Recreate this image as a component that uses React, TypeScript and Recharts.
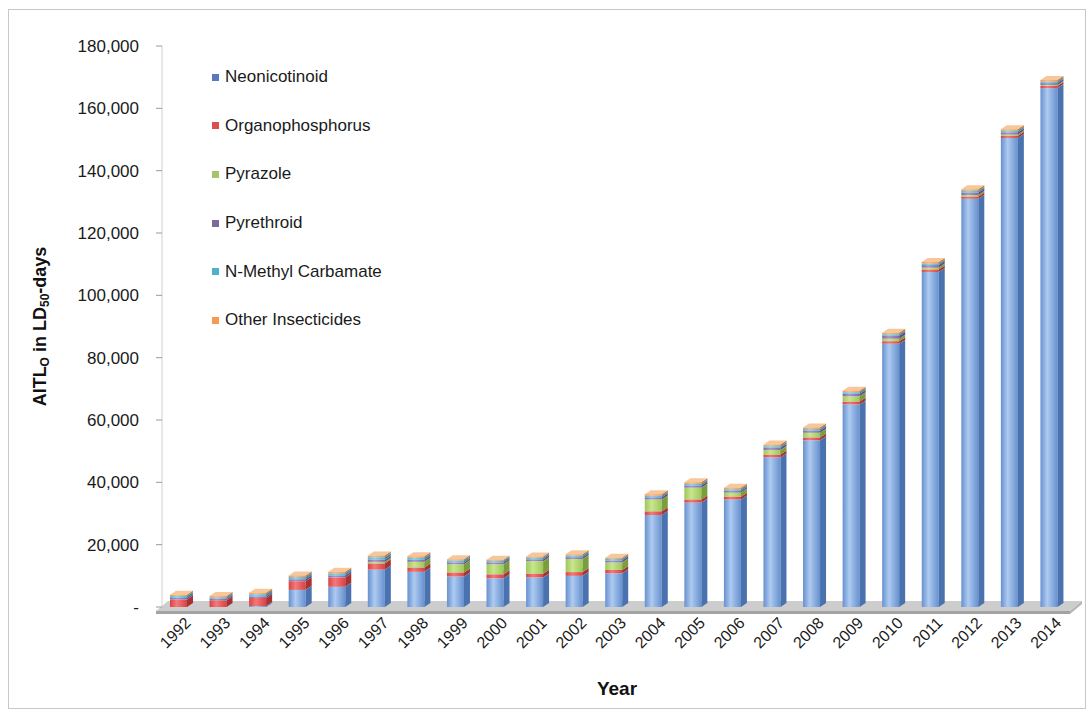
import React from 'react';
import { BarChart, Bar, XAxis, YAxis, Legend, ReferenceArea, Label } from 'recharts';

const FONT = '"Liberation Sans", Arial, sans-serif';

const years = [
  '1992', '1993', '1994', '1995', '1996', '1997', '1998', '1999', '2000', '2001', '2002', '2003',
  '2004', '2005', '2006', '2007', '2008', '2009', '2010', '2011', '2012', '2013', '2014',
];

// AITL_O in LD50-days
const neonicotinoid = [0, 0, 300, 5500, 6500, 12000, 11300, 9800, 9200, 9500, 10000, 10800, 29500, 33500, 34500, 48000, 53500, 65000, 84500, 107500, 131000, 150500, 166500];
const organophosphorus = [2400, 2200, 2600, 2800, 3000, 2000, 1400, 1300, 1300, 1200, 1200, 1100, 1200, 1000, 900, 900, 900, 900, 800, 800, 700, 700, 700];
const pyrazole = [0, 0, 0, 0, 0, 500, 1800, 2600, 3200, 4000, 4200, 2400, 3800, 3800, 1300, 1500, 1500, 1700, 800, 600, 500, 400, 300];
const pyrethroid = [500, 400, 500, 600, 600, 700, 700, 600, 600, 600, 600, 600, 700, 700, 600, 700, 700, 800, 900, 800, 800, 700, 600];
const carbamate = [600, 500, 700, 700, 700, 800, 600, 600, 500, 500, 500, 500, 500, 500, 500, 500, 500, 500, 500, 500, 500, 500, 500];
const other = [400, 400, 500, 500, 500, 500, 500, 400, 400, 400, 400, 400, 500, 500, 500, 500, 500, 500, 500, 500, 500, 500, 500];

const yTicks = [0, 20000, 40000, 60000, 80000, 100000, 120000, 140000, 160000, 180000];

const series = [
  { key: 'neonicotinoid', name: 'Neonicotinoid', values: neonicotinoid, legend: '#5a78be', dark: '#6690cf', light: '#aecbf0', side: '#4a72ae', top: '#bcd4f3' },
  { key: 'organophosphorus', name: 'Organophosphorus', values: organophosphorus, legend: '#d9514f', dark: '#d94245', light: '#f27a7a', side: '#a83232', top: '#f5a0a0' },
  { key: 'pyrazole', name: 'Pyrazole', values: pyrazole, legend: '#a6c46a', dark: '#9cc75a', light: '#c9e68e', side: '#7a9e3e', top: '#d8eead' },
  { key: 'pyrethroid', name: 'Pyrethroid', values: pyrethroid, legend: '#7c6a98', dark: '#8069ad', light: '#ab98d0', side: '#604d88', top: '#bfb1dc' },
  { key: 'carbamate', name: 'N-Methyl Carbamate', values: carbamate, legend: '#4fb0cc', dark: '#4fb2d0', light: '#8fd6ec', side: '#348ca8', top: '#a8e0f0' },
  { key: 'other', name: 'Other Insecticides', values: other, legend: '#f59a4e', dark: '#f3954a', light: '#fbbf86', side: '#c9742e', top: '#f9c69a' },
];

const data = years.map((year, i) => {
  const row: Record<string, string | number> = { year };
  series.forEach((s) => {
    row[s.key] = s.values[i];
  });
  return row;
});

const DX = 6;
const DY = 4;

// fake 3D column: front face, right side, top
function Box({ x, y, width, height, s }: any) {
  if (!height || height <= 0.01) return null;
  const w = width - DX;
  const top = `${x},${y} ${x + DX},${y - DY} ${x + w + DX},${y - DY} ${x + w},${y}`;
  const side = `${x + w},${y} ${x + w + DX},${y - DY} ${x + w + DX},${y + height - DY} ${x + w},${y + height}`;
  return (
    <g>
      <rect x={x} y={y} width={w} height={height} fill={`url(#front-${s.key})`} />
      <polygon points={side} fill={s.side} />
      <polygon points={top} fill={s.top} />
    </g>
  );
}

function Floor({ x, y, width }: any) {
  const x0 = x - 6;
  const x1 = x + width - 2;
  const front = y + 4;
  const back = y - 6;
  const slant = 12;
  return (
    <g>
      <polygon
        points={`${x0},${front} ${x0 + slant},${back} ${x1 + slant},${back} ${x1},${front}`}
        fill="#cdcdcd"
      />
      <polygon
        points={`${x0},${front} ${x1},${front} ${x1},${front + 3} ${x0},${front + 3}`}
        fill="#a3a3a3"
      />
      <polygon
        points={`${x1},${front} ${x1 + slant},${back} ${x1 + slant},${back + 3} ${x1},${front + 3}`}
        fill="#b5b5b5"
      />
    </g>
  );
}

function YearTick({ x, y, payload }: any) {
  const ax = x + 10;
  const ay = y + 9;
  return (
    <text
      x={ax}
      y={ay}
      transform={`rotate(-45, ${ax}, ${ay})`}
      textAnchor="end"
      fontSize={16}
      fontFamily={FONT}
      fill="#1a1a1a"
    >
      {payload.value}
    </text>
  );
}

function YTitle({ viewBox }: any) {
  const cx = 40;
  const cy = viewBox.y + viewBox.height / 2;
  return (
    <text
      x={cx}
      y={cy}
      transform={`rotate(-90, ${cx}, ${cy})`}
      textAnchor="middle"
      dominantBaseline="central"
      fontSize={18}
      fontWeight="bold"
      fontFamily={FONT}
      fill="#111"
    >
      AITL
      <tspan fontSize={12} dy={5}>O</tspan>
      <tspan dy={-5}> in LD</tspan>
      <tspan fontSize={12} dy={5}>50</tspan>
      <tspan dy={-5}>-days</tspan>
    </text>
  );
}

function LegendBox() {
  return (
    <div style={{ fontFamily: FONT, fontSize: 17, color: '#1a1a1a' }}>
      {series.map((s) => (
        <div key={s.key} style={{ height: 48.6, display: 'flex', alignItems: 'center', whiteSpace: 'nowrap' }}>
          <span style={{ width: 7, height: 7, background: s.legend, marginRight: 6, display: 'inline-block' }} />
          {s.name}
        </div>
      ))}
    </div>
  );
}

const fmt = (v: number) => (v === 0 ? '-' : v.toLocaleString('en-US'));

export default function App() {
  return (
    <div style={{ position: 'absolute', left: 0, top: 0, width: 1092, height: 717, background: '#fff' }}>
      <div
        style={{
          position: 'absolute',
          left: 8,
          top: 9,
          width: 1076,
          height: 698,
          border: '1px solid #c8c8c8',
        }}
      />
      <BarChart
        width={1092}
        height={717}
        data={data}
        margin={{ top: 46, right: 20, bottom: 0, left: 62 }}
        barSize={23}
      >
        <defs>
          {series.map((s) => (
            <linearGradient key={s.key} id={`front-${s.key}`} x1="0" y1="0" x2="1" y2="0">
              <stop offset="0%" stopColor={s.dark} />
              <stop offset="40%" stopColor={s.light} />
              <stop offset="100%" stopColor={s.dark} />
            </linearGradient>
          ))}
        </defs>
        <XAxis
          dataKey="year"
          height={110}
          axisLine={false}
          tickLine={false}
          interval={0}
          tick={<YearTick />}
        >
          <Label
            value="Year"
            position="insideBottom"
            offset={22}
            style={{ fontFamily: FONT, fontSize: 19, fontWeight: 'bold', fill: '#111' }}
          />
        </XAxis>
        <YAxis
          width={100}
          domain={[0, 180000]}
          ticks={yTicks}
          tickFormatter={fmt}
          axisLine={{ stroke: '#d0d0d0' }}
          tickLine={{ stroke: '#9a9a9a' }}
          tickSize={6}
          tickMargin={17}
          tick={{ fontSize: 17, fontFamily: FONT, fill: '#1a1a1a' }}
        >
          <Label content={<YTitle />} />
        </YAxis>
        <ReferenceArea
          x1={years[0]}
          x2={years[years.length - 1]}
          y1={0}
          y2={0}
          ifOverflow="visible"
          shape={<Floor />}
        />
        <Legend
          content={<LegendBox />}
          layout="vertical"
          align="center"
          verticalAlign="middle"
          wrapperStyle={{ left: 212, top: 53, width: 'auto', height: 'auto' }}
        />
        {series.map((s) => (
          <Bar
            key={s.key}
            dataKey={s.key}
            name={s.name}
            stackId="a"
            fill={s.dark}
            isAnimationActive={false}
            shape={(p: any) => <Box {...p} s={s} />}
          />
        ))}
      </BarChart>
    </div>
  );
}
